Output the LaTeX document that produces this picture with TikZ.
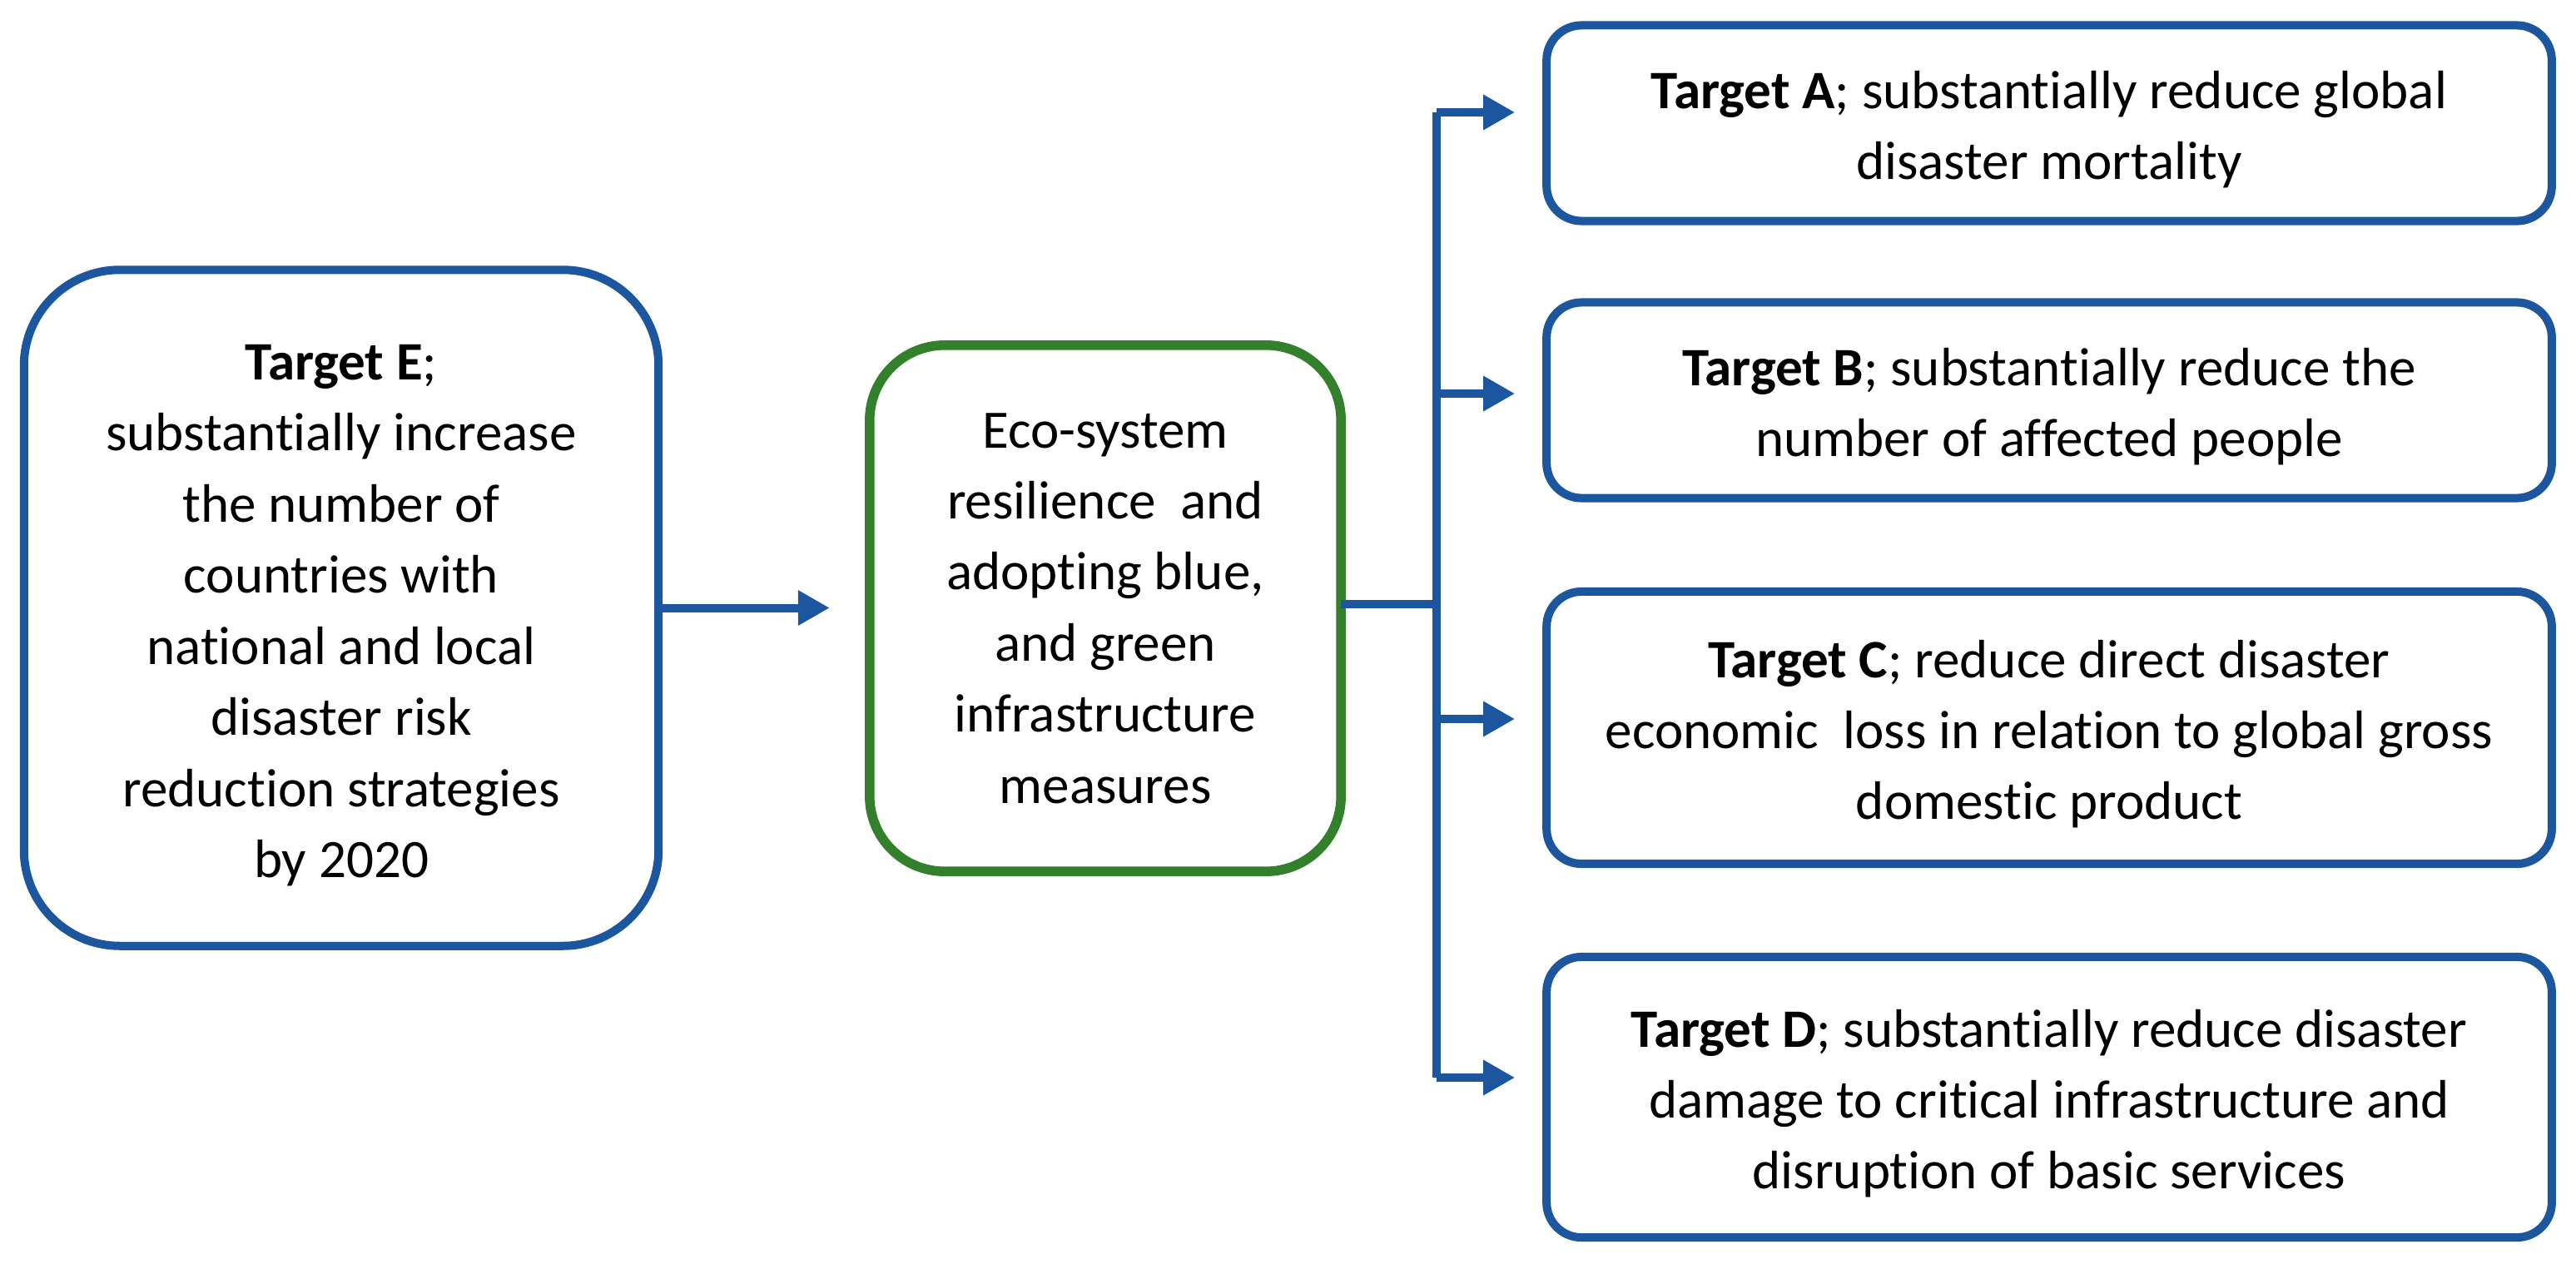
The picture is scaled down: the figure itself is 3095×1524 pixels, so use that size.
\documentclass[tikz,border=0pt]{standalone}
\usepackage{fontspec}
\setmainfont{Carlito}[Ligatures=NoCommon]
\usetikzlibrary{arrows.meta}
\definecolor{dblue}{RGB}{28,86,158}
\definecolor{dgreen}{RGB}{50,128,44}
\newcommand\topst{\rule{0pt}{0.72cm}}
\newcommand\botst{\rule[-0.22cm]{0pt}{0pt}}
\begin{document}
\begin{tikzpicture}[x=0.01cm,y=-0.01cm,
  box/.style={draw=dblue, line width=0.10cm, align=center, inner sep=0pt, outer sep=0pt,
    font=\fontsize{18.5}{24.3}\selectfont, fill=white},
  wire/.style={draw=dblue, line width=0.10cm},
  arr/.style={wire, -{Triangle[length=0.38cm,width=0.40cm]}}]
\useasboundingbox (0,0) rectangle (3095,1524);
% boxes
\node[box, rounded corners=1.15cm, minimum width=7.62cm, minimum height=8.12cm] (E) at (410,730.5)
  {\topst\textbf{Target E};\\substantially increase\\the number of\\countries with\\national and local\\disaster risk\\reduction strategies\\by 2020\botst};
\node[box, draw=dgreen, line width=0.115cm, rounded corners=0.9cm, minimum width=5.66cm, minimum height=6.32cm] (M) at (1328,731)
  {Eco-system\\resilience\ \ and\\adopting blue,\\and green\\infrastructure\\measures};
\node[box, rounded corners=0.42cm, minimum width=12.07cm, minimum height=2.35cm] (A) at (2462,148)
  {\topst\textbf{Target A}; substantially reduce global\\disaster mortality\botst};
\node[box, rounded corners=0.42cm, minimum width=12.07cm, minimum height=2.35cm] (B) at (2462,481)
  {\topst\textbf{Target B}; substantially reduce the\\number of affected people\botst};
\node[box, rounded corners=0.42cm, minimum width=12.07cm, minimum height=3.27cm] (C) at (2462,874.5)
  {\topst\textbf{Target C}; reduce direct disaster\\economic\ \ loss in relation to global gross\\domestic product\botst};
\node[box, rounded corners=0.42cm, minimum width=12.07cm, minimum height=3.37cm] (D) at (2462,1318.5)
  {\topst\textbf{Target D}; substantially reduce disaster\\damage to critical infrastructure and\\disruption of basic services\botst};
% connectors
\draw[arr, shorten >=0.48cm] (E.east) -- (E.east -| M.west);
\coordinate (bus) at (1726,726);
\coordinate (pa) at (1726,135);
\coordinate (pb) at (1726,473);
\coordinate (pc) at (1726,864);
\coordinate (pd) at (1726,1295);
\draw[wire] (M.east |- bus) -- (bus);
\draw[wire] (pa) -- (pd);
\draw[arr, shorten >=0.38cm] (pa) -- (pa -| A.west);
\draw[arr, shorten >=0.38cm] (pb) -- (pb -| B.west);
\draw[arr, shorten >=0.38cm] (pc) -- (pc -| C.west);
\draw[arr, shorten >=0.38cm] (pd) -- (pd -| D.west);
\end{tikzpicture}
\end{document}
